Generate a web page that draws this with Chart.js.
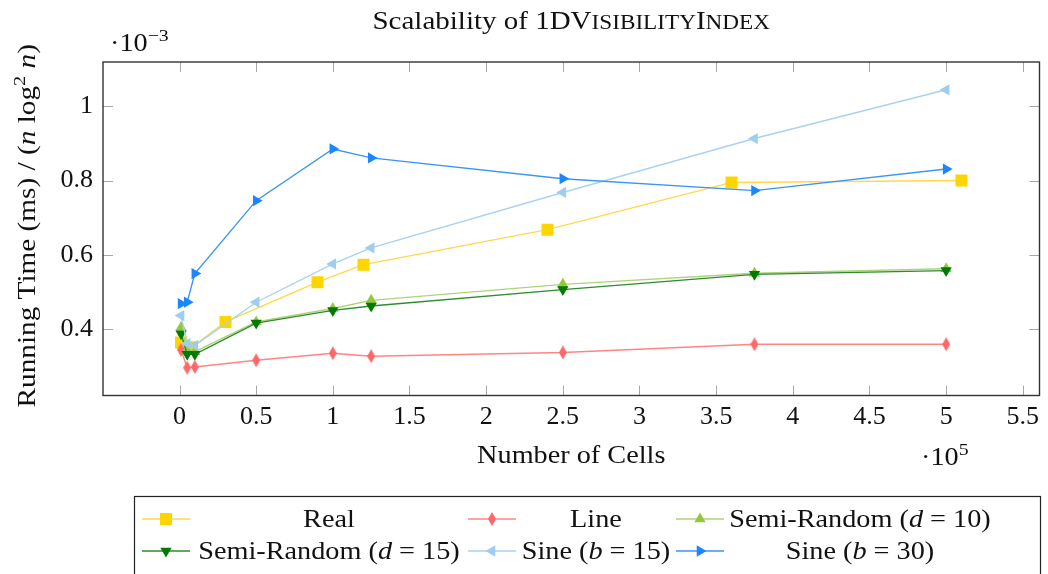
<!DOCTYPE html>
<html>
<head>
<meta charset="utf-8">
<title>Scalability of 1DVisibilityIndex</title>
<script src="https://cdn.jsdelivr.net/npm/chart.js"></script>
<style>
  html, body { margin: 0; padding: 0; background: #fff; }
  canvas { display: block; }
</style>
</head>
<body>
<canvas id="chart" width="1048" height="574"></canvas>
<script>
// running time divided by n log^2 n, in units of 1e-3 ms
const realCells = [1000, 8000, 30000, 90000, 120000, 240000, 360000, 510000];
const realTime = [0.365, 0.352, 0.420, 0.527, 0.574, 0.668, 0.795, 0.800];

const synthCells = [1000, 5000, 10000, 50000, 100000, 125000, 250000, 375000, 500000];
const lineTime = [0.345, 0.297, 0.299, 0.317, 0.336, 0.328, 0.338, 0.360, 0.360];
const semi10Time = [0.405, 0.345, 0.340, 0.420, 0.456, 0.478, 0.521, 0.551, 0.563];
const semi15Time = [0.388, 0.333, 0.333, 0.417, 0.451, 0.463, 0.507, 0.548, 0.558];
const sine15Time = [0.437, 0.362, 0.357, 0.473, 0.576, 0.619, 0.768, 0.913, 1.044];
const sine30Time = [0.469, 0.473, 0.550, 0.746, 0.885, 0.861, 0.805, 0.773, 0.831];

const xTickValues = [0, 50000, 100000, 150000, 200000, 250000, 300000, 350000, 400000, 450000, 500000, 550000];
const yTickValues = [0.4, 0.6, 0.8, 1.0];

const SERIF = '"Liberation Serif", "DejaVu Serif", serif';
const FONT_SIZE = 25;
const TEXT_STRETCH = 1.13; // Liberation Serif runs narrower than Palatino

// thin vertical diamond, like the tikz "diamond*" mark
function diamondMark(color) {
  const c = document.createElement('canvas');
  c.width = 8; c.height = 14;
  const g = c.getContext('2d');
  g.fillStyle = color;
  g.beginPath();
  g.moveTo(4, 0); g.lineTo(8, 7); g.lineTo(4, 14); g.lineTo(0, 7);
  g.closePath();
  g.fill();
  return c;
}

function series(label, cells, times, color, lineColor, style, rotation, radius, legendText) {
  return {
    label,
    legendText,
    data: cells.map((c, i) => ({ x: c, y: times[i] })),
    borderColor: lineColor,
    backgroundColor: color,
    pointBackgroundColor: color,
    borderWidth: 1.4,
    pointStyle: style,
    pointRotation: rotation,
    pointRadius: radius,
    pointBorderWidth: 0,
    pointHoverRadius: radius,
    tension: 0,
    fill: false
  };
}

const datasets = [
  series('Real', realCells, realTime, '#ffd500', '#ffd84a', 'rect', 0, 8.5,
    [{ t: 'Real' }]),
  series('Line', synthCells, lineTime, '#ff6868', '#ff8585', diamondMark('#ff6868'), 0, 6,
    [{ t: 'Line' }]),
  series('Semi-Random (d = 10)', synthCells, semi10Time, '#94c83c', '#add47a', 'triangle', 0, 6.5,
    [{ t: 'Semi-Random (' }, { t: 'd', i: true }, { t: ' = 10)' }]),
  series('Semi-Random (d = 15)', synthCells, semi15Time, '#007a00', '#2e8b2e', 'triangle', 180, 6.5,
    [{ t: 'Semi-Random (' }, { t: 'd', i: true }, { t: ' = 15)' }]),
  series('Sine (b = 15)', synthCells, sine15Time, '#9fcdf0', '#a9d2f0', 'triangle', 270, 6.5,
    [{ t: 'Sine (' }, { t: 'b', i: true }, { t: ' = 15)' }]),
  series('Sine (b = 30)', synthCells, sine30Time, '#1a86ff', '#3b95f5', 'triangle', 90, 6.5,
    [{ t: 'Sine (' }, { t: 'b', i: true }, { t: ' = 30)' }])
];
// later series sit on top of earlier ones
datasets.forEach((d, i) => { d.order = datasets.length - i; });

// axis limits: data range enlarged by 10% on each side
const allCells = realCells.concat(synthCells);
const allTimes = [].concat(realTime, lineTime, semi10Time, semi15Time, sine15Time, sine30Time);
const xLo = Math.min(...allCells), xHi = Math.max(...allCells);
const yLo = Math.min(...allTimes), yHi = Math.max(...allTimes);
const xMin = xLo - 0.1 * (xHi - xLo), xMax = xHi + 0.1 * (xHi - xLo);
const yMin = yLo - 0.1 * (yHi - yLo), yMax = yHi + 0.1 * (yHi - yLo);

// text runs made of pieces: {t, i: italic, sup: superscript, sc: small caps}
function pieceFont(p, size) {
  let s = size;
  if (p.sup) s = size * 0.7;
  if (p.sc) s = size * 0.8;
  return (p.i ? 'italic ' : '') + s + 'px ' + SERIF;
}
function richWidth(ctx, parts, size) {
  let w = 0;
  parts.forEach(p => {
    ctx.font = pieceFont(p, size);
    w += ctx.measureText(p.sc ? p.t.toUpperCase() : p.t).width;
  });
  return w;
}
function drawRich(ctx, parts, x, y, size, align, stretch) {
  const sx = stretch || TEXT_STRETCH;
  const w = richWidth(ctx, parts, size) * sx;
  let start = x;
  if (align === 'center') start = x - w / 2;
  if (align === 'right') start = x - w;
  ctx.save();
  ctx.translate(start, y);
  ctx.scale(sx, 1);
  ctx.textAlign = 'left';
  ctx.textBaseline = 'alphabetic';
  let cx = 0;
  parts.forEach(p => {
    const txt = p.sc ? p.t.toUpperCase() : p.t;
    ctx.font = pieceFont(p, size);
    ctx.fillText(txt, cx, p.sup ? -size * 0.42 : 0);
    cx += ctx.measureText(txt).width;
  });
  ctx.restore();
}

function drawMarker(ctx, ds, x, y) {
  ctx.fillStyle = ds.pointBackgroundColor;
  if (ds.pointStyle instanceof HTMLCanvasElement) {
    ctx.drawImage(ds.pointStyle, x - ds.pointStyle.width / 2, y - ds.pointStyle.height / 2);
  } else {
    Chart.helpers.drawPoint(ctx, {
      pointStyle: ds.pointStyle, rotation: ds.pointRotation, radius: ds.pointRadius, borderWidth: 0
    }, x, y);
  }
}

// box, inward tick marks on all four sides
const framePlugin = {
  id: 'frame',
  beforeDatasetsDraw(chart) {
    const { ctx, chartArea: a, scales: { x, y } } = chart;
    ctx.save();
    ctx.strokeStyle = '#a8a8a8';
    ctx.lineWidth = 1;
    ctx.beginPath();
    xTickValues.forEach(v => {
      const px = Math.round(x.getPixelForValue(v)) + 0.5;
      ctx.moveTo(px, a.bottom); ctx.lineTo(px, a.bottom - 10);
      ctx.moveTo(px, a.top); ctx.lineTo(px, a.top + 10);
    });
    yTickValues.forEach(v => {
      const py = Math.round(y.getPixelForValue(v)) + 0.5;
      ctx.moveTo(a.left, py); ctx.lineTo(a.left + 10, py);
      ctx.moveTo(a.right, py); ctx.lineTo(a.right - 10, py);
    });
    ctx.stroke();
    ctx.restore();
  },
  afterDatasetsDraw(chart) {
    const { ctx, chartArea: a } = chart;
    ctx.save();
    ctx.strokeStyle = '#333';
    ctx.lineWidth = 1.4;
    ctx.strokeRect(a.left, a.top, a.right - a.left, a.bottom - a.top);
    ctx.restore();
  }
};

// title, axis labels, scale factors and the legend box
const textPlugin = {
  id: 'texts',
  afterDraw(chart) {
    const { ctx, chartArea: a } = chart;
    const midX = (a.left + a.right) / 2;
    const midY = (a.top + a.bottom) / 2;
    ctx.save();
    ctx.fillStyle = '#111';

    drawRich(ctx, [
      { t: 'Scalability of 1DV' }, { t: 'isibility', sc: true }, { t: 'I' }, { t: 'ndex', sc: true }
    ], midX, 29, 25, 'center', 1.16);

    drawRich(ctx, [{ t: 'Number of Cells' }], midX, 463, FONT_SIZE, 'center');
    drawRich(ctx, [{ t: '·10' }, { t: '5', sup: true }], 921, 465, FONT_SIZE, 'left');
    drawRich(ctx, [{ t: '·10' }, { t: '−3', sup: true }], 110, 51, FONT_SIZE, 'left');

    ctx.save();
    ctx.translate(35, midY - 3);
    ctx.rotate(-Math.PI / 2);
    drawRich(ctx, [
      { t: 'Running Time (ms) / (' }, { t: 'n', i: true }, { t: ' log' }, { t: '2', sup: true },
      { t: ' ' }, { t: 'n', i: true }, { t: ')' }
    ], 0, 0, FONT_SIZE, 'center', 1.17);
    ctx.restore();

    // legend: three columns, two rows
    ctx.strokeStyle = '#222';
    ctx.lineWidth = 1.2;
    ctx.strokeRect(134.5, 496.5, 906, 100);
    const sampleX = [166, 492, 700];
    const labelX = [329, 596, 860];
    const rowY = [519, 551];
    chart.data.datasets.forEach((ds, i) => {
      const col = i % 3, row = Math.floor(i / 3);
      const sx = sampleX[col], sy = rowY[row];
      ctx.strokeStyle = ds.borderColor;
      ctx.lineWidth = 1.6;
      ctx.beginPath();
      ctx.moveTo(sx - 24, sy); ctx.lineTo(sx + 24, sy);
      ctx.stroke();
      drawMarker(ctx, ds, sx, sy);
      ctx.fillStyle = '#111';
      drawRich(ctx, ds.legendText, labelX[col], sy + 8, FONT_SIZE, 'center');
    });
    ctx.restore();
  }
};

new Chart(document.getElementById('chart'), {
  type: 'line',
  data: { datasets },
  options: {
    responsive: false,
    animation: false,
    events: [],
    layout: { padding: { top: 62, right: 6, left: 0, bottom: 0 } },
    plugins: {
      legend: { display: false },
      title: { display: false },
      tooltip: { enabled: false }
    },
    scales: {
      x: {
        type: 'linear',
        min: xMin,
        max: xMax,
        grid: { display: false, drawTicks: false },
        border: { display: false },
        afterBuildTicks: s => { s.ticks = xTickValues.map(v => ({ value: v })); },
        afterFit: s => { s.height = 574 - 395.5; s.paddingLeft = 0; s.paddingRight = 0; },
        ticks: {
          color: '#111',
          padding: 6,
          maxRotation: 0,
          font: { family: SERIF, size: 26 },
          callback: v => String(v / 100000)
        }
      },
      y: {
        type: 'linear',
        min: yMin,
        max: yMax,
        grid: { display: false, drawTicks: false },
        border: { display: false },
        afterBuildTicks: s => { s.ticks = yTickValues.map(v => ({ value: v })); },
        afterFit: s => { s.width = 103; s.paddingTop = 0; s.paddingBottom = 0; },
        ticks: {
          color: '#111',
          padding: 10,
          font: { family: SERIF, size: 26 },
          callback: v => String(v)
        }
      }
    }
  },
  plugins: [framePlugin, textPlugin]
});
</script>
</body>
</html>
